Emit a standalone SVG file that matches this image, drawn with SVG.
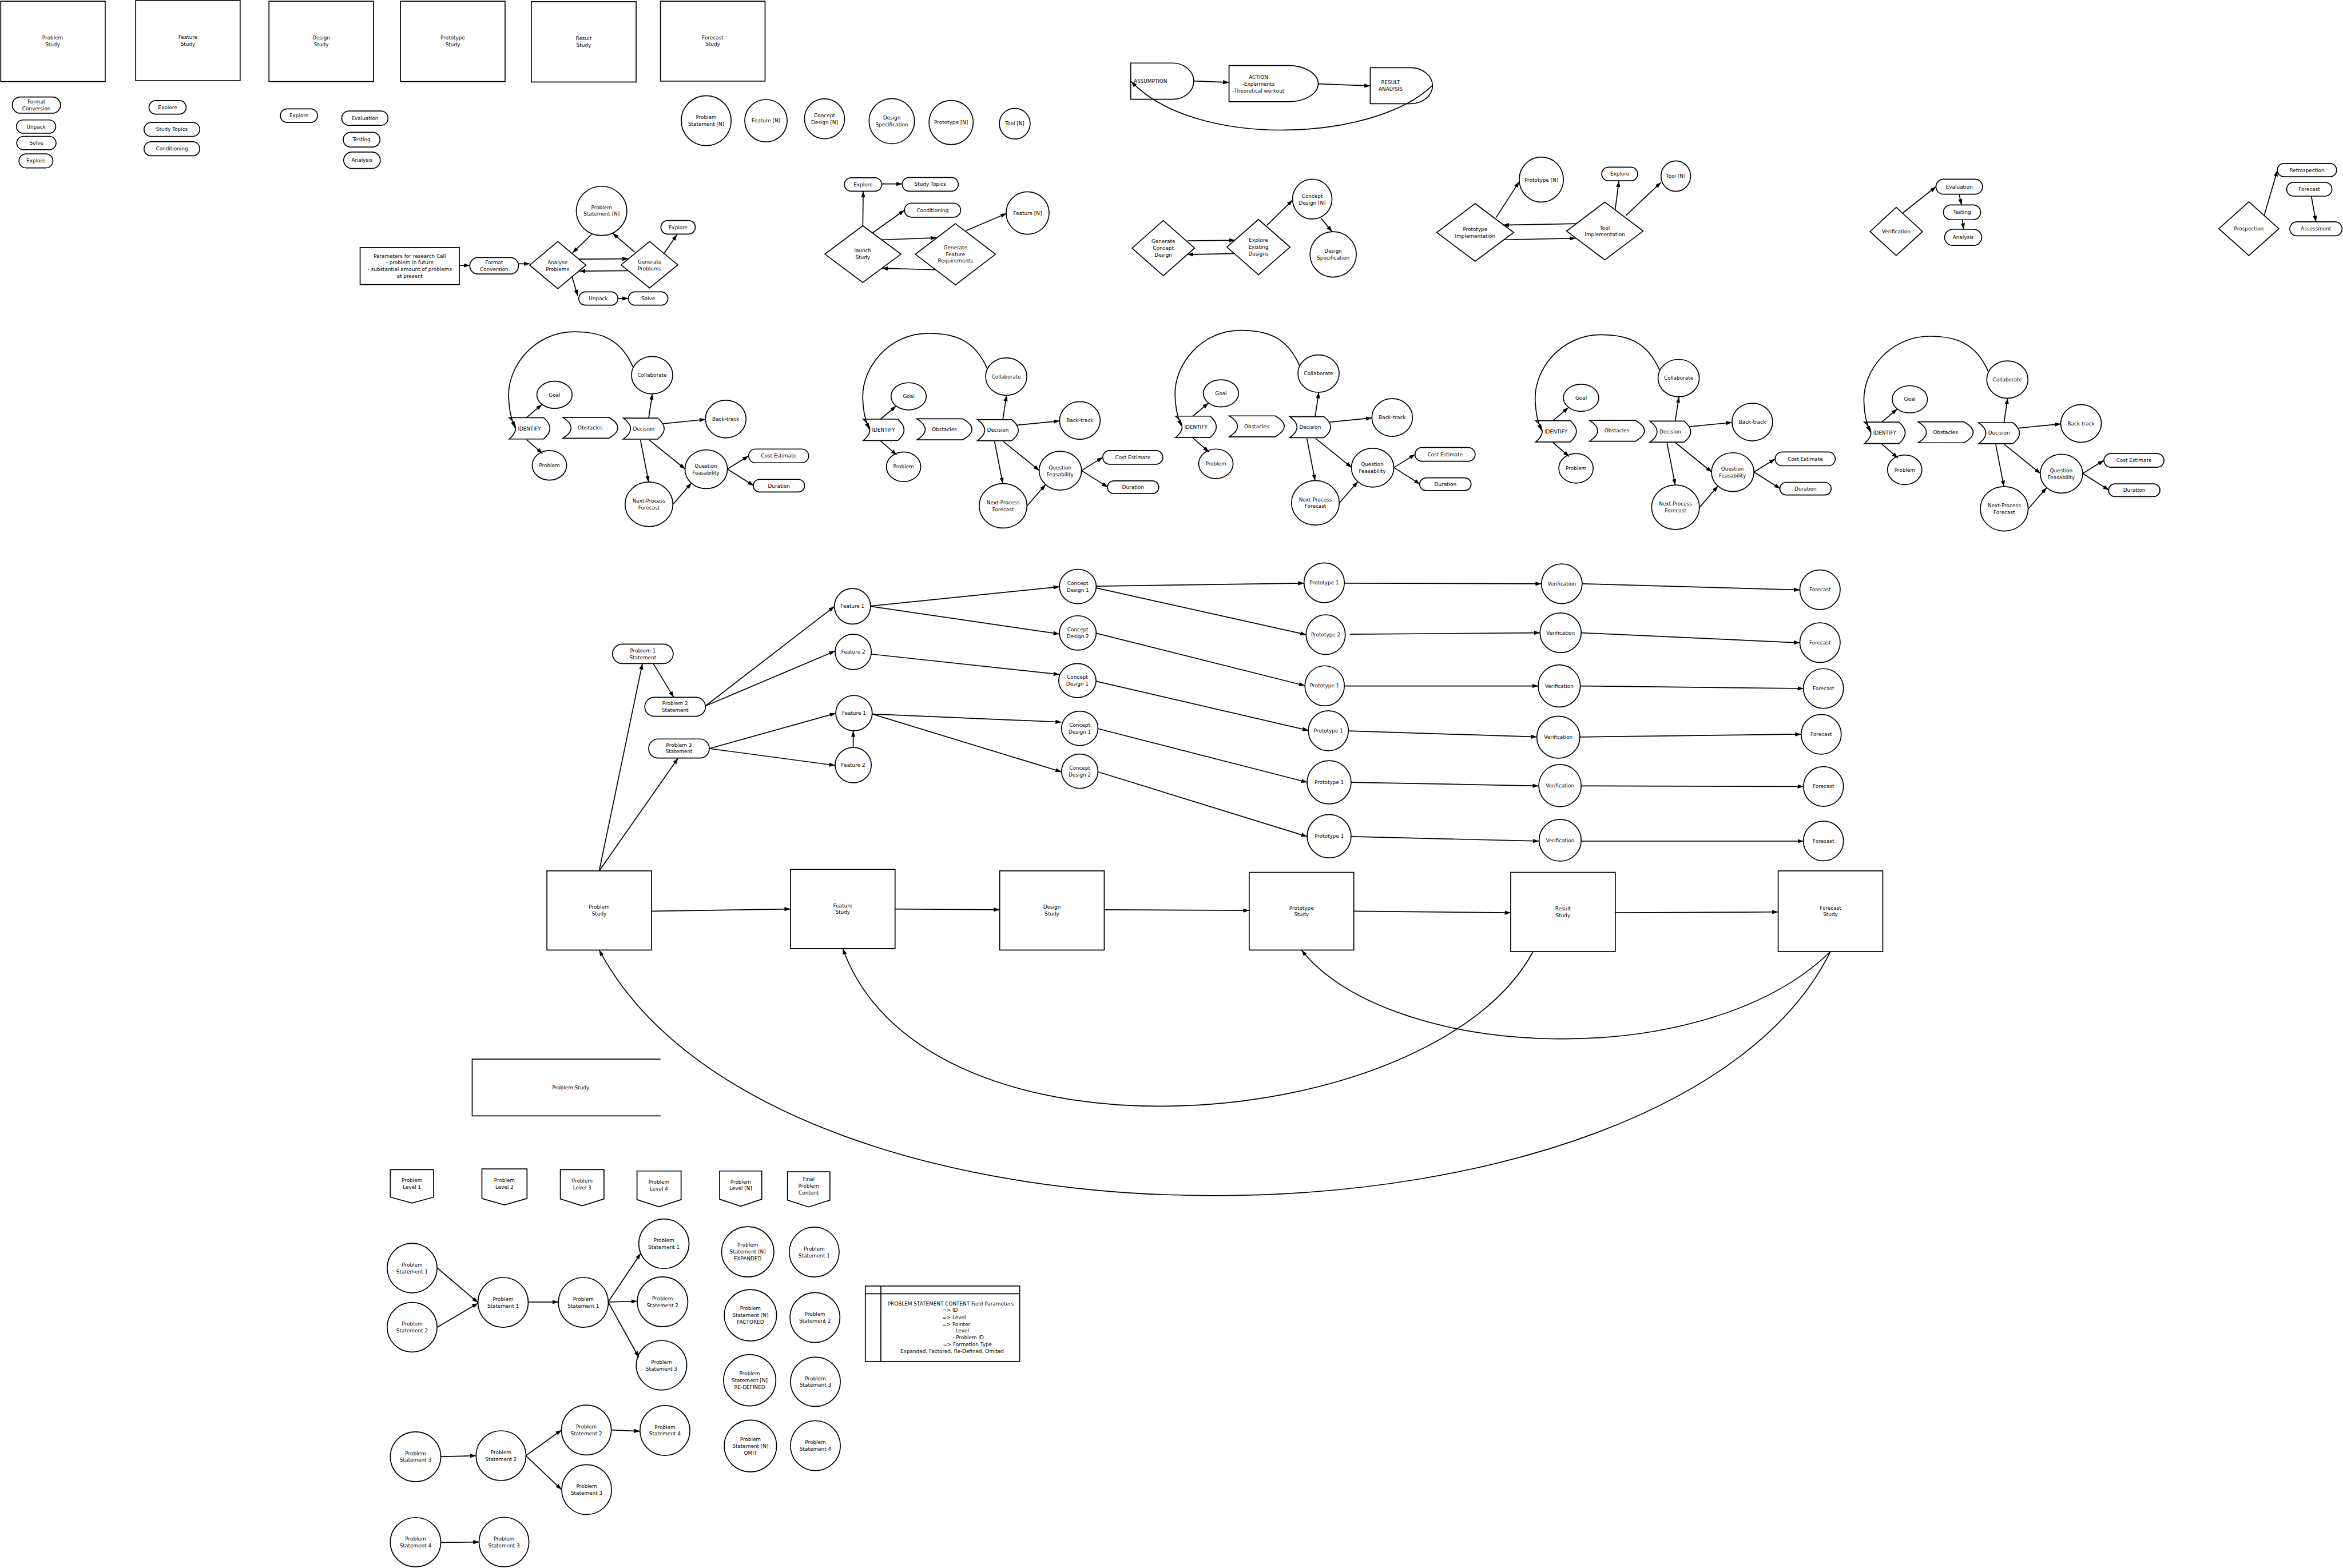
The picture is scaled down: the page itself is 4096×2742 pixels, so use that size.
<svg xmlns="http://www.w3.org/2000/svg" width="4096" height="2742" viewBox="0 0 4096 2742">
<style>
.n{fill:#fff;stroke:#000;stroke-width:0.65}
.e{fill:none;stroke:#000;stroke-width:0.65;marker-end:url(#ah)}
.l{fill:none;stroke:#000;stroke-width:0.65}
text{font-family:"DejaVu Sans",sans-serif;font-size:3.4px;text-anchor:middle;fill:#000}
.st{text-anchor:start}
</style>
<defs>
<marker id="ah" viewBox="0 0 10 7" refX="10" refY="3.5" markerWidth="4" markerHeight="2.8" orient="auto" markerUnits="userSpaceOnUse"><path d="M0,0 L10,3.5 L0,7 z" fill="#000"/></marker>
</defs>
<rect width="4096" height="2742" fill="#fff"/>
<g transform="scale(2.61224)">
<!-- top study boxes -->
<g id="t-problem-study"><rect class="n" x="0.5" y="0.8" width="69.9" height="53.8"/><text x="35.2" y="26.6">Problem<tspan x="35.2" dy="4.5">Study</tspan></text></g>
<g id="t-feature-study"><rect class="n" x="90.8" y="0.4" width="69.9" height="53.6"/><text x="125.75" y="26">Feature<tspan x="125.75" dy="4.5">Study</tspan></text></g>
<g id="t-design-study"><rect class="n" x="180" y="0.8" width="70" height="53.8"/><text x="215" y="26.6">Design<tspan x="215" dy="4.5">Study</tspan></text></g>
<g id="t-prototype-study"><rect class="n" x="268" y="0.8" width="70" height="53.8"/><text x="303" y="26.6">Prototype<tspan x="303" dy="4.5">Study</tspan></text></g>
<g id="t-result-study"><rect class="n" x="355.6" y="1.1" width="70.1" height="53.8"/><text x="390.6" y="26.7">Result<tspan x="390.6" dy="4.5">Study</tspan></text></g>
<g id="t-forecast-study"><rect class="n" x="442" y="0.8" width="70" height="53.5"/><text x="477" y="26.3">Forecast<tspan x="477" dy="4.5">Study</tspan></text></g>
<!-- pills under boxes -->
<g id="p-format"><rect class="n" x="8.2" y="64.9" width="32.3" height="10.9" rx="5.45"/><text x="24.35" y="69.3">Format<tspan x="24.35" dy="4.5">Conversion</tspan></text></g>
<g id="p-unpack"><rect class="n" x="11" y="80.3" width="26.3" height="8.9" rx="4.45"/><text x="24.15" y="85.95">Unpack</text></g>
<g id="p-solve"><rect class="n" x="11.2" y="91.3" width="26.3" height="8.9" rx="4.45"/><text x="24.35" y="96.95">Solve</text></g>
<g id="p-explore1"><rect class="n" x="12.7" y="103" width="22.7" height="9.4" rx="4.7"/><text x="24.05" y="108.9">Explore</text></g>
<g id="p-explore2"><rect class="n" x="99.7" y="67.3" width="24.9" height="9.1" rx="4.55"/><text x="112.15" y="73.05">Explore</text></g>
<g id="p-studytopics"><rect class="n" x="96.4" y="82" width="37.3" height="9.3" rx="4.65"/><text x="115.05" y="87.85">Study Topics</text></g>
<g id="p-conditioning"><rect class="n" x="96.4" y="94.9" width="37.3" height="9.4" rx="4.7"/><text x="115.05" y="100.8">Conditioning</text></g>
<g id="p-explore3"><rect class="n" x="187.6" y="72.9" width="24.9" height="9.1" rx="4.55"/><text x="200.05" y="78.65">Explore</text></g>
<g id="p-evaluation"><rect class="n" x="228.7" y="74.3" width="31" height="9.6" rx="4.8"/><text x="244.2" y="80.3">Evaluation</text></g>
<g id="p-testing"><rect class="n" x="229.7" y="88.6" width="24.6" height="9.8" rx="4.9"/><text x="242" y="94.7">Testing</text></g>
<g id="p-analysis"><rect class="n" x="230" y="101.8" width="24.5" height="11" rx="5.5"/><text x="242.25" y="108.5">Analysis</text></g>
<!-- circles row -->
<g id="c-ps"><ellipse class="n" cx="472.6" cy="80.8" rx="16.7" ry="16.7"/><text x="472.6" y="79.7">Problem<tspan x="472.6" dy="4.7">Statement [N]</tspan></text></g>
<g id="c-feature"><ellipse class="n" cx="512.6" cy="80.8" rx="14.2" ry="14.2"/><text x="512.6" y="82">Feature [N]</text></g>
<g id="c-concept"><ellipse class="n" cx="551.8" cy="79.5" rx="13.4" ry="13.4"/><text x="551.8" y="78.3">Concept<tspan x="551.8" dy="4.6">Design [N]</tspan></text></g>
<g id="c-designspec"><ellipse class="n" cx="596.8" cy="81.1" rx="15.2" ry="15.1"/><text x="596.8" y="80">Design<tspan x="596.8" dy="4.6">Specification</tspan></text></g>
<g id="c-prototype"><ellipse class="n" cx="636.5" cy="82" rx="14.8" ry="14.8"/><text x="636.5" y="83.2">Prototype [N]</text></g>
<g id="c-tool"><ellipse class="n" cx="679.1" cy="82.8" rx="10.3" ry="10.3"/><text x="679.1" y="84">Tool [N]</text></g>
<!-- assumption loop -->
<g id="a-assumption"><path class="n" d="M756.7,42.2 H784.7 A14.2,12.15 0 0 1 784.7,66.5 H756.7 Z"/><text class="st" x="758.7" y="55.4">ASSUMPTION</text></g>
<g id="a-action"><path class="n" d="M822.5,43.9 H862.3 A19.9,12.1 0 0 1 862.3,68.1 H822.5 Z"/><text x="842.2" y="52.9">ACTION<tspan x="842.2" dy="4.6">-Experments</tspan><tspan x="842.2" dy="4.5">-Theoretical workout</tspan></text></g>
<g id="a-result"><path class="n" d="M917,45.3 H943.9 A14.8,12.05 0 0 1 943.9,69.4 H917 Z"/><text x="930.6" y="56.4">RESULT<tspan x="930.6" dy="4.5">ANALYSIS</tspan></text></g>
<!-- parameters cluster -->
<g id="k-params"><rect class="n" x="241" y="165.7" width="66.4" height="24.8"/><text x="274.2" y="172.5">Parameters for research Call<tspan x="274.2" dy="4.55">- problem in future</tspan><tspan x="274.2" dy="4.55">- substantial amount of problems</tspan><tspan x="274.2" dy="4.55">at present</tspan></text></g>
<g id="k-format"><rect class="n" x="314.4" y="172.4" width="32.6" height="11" rx="5.5"/><text x="330.7" y="176.8">Format<tspan x="330.7" dy="4.5">Conversion</tspan></text></g>
<g id="k-analyse"><polygon class="n" points="373.3,161.7 392.1,177.5 373.3,193.3 354.5,177.5"/><text x="373.1" y="176.8">Analyse<tspan x="373.1" dy="4.5">Problems</tspan></text></g>
<g id="k-ps"><ellipse class="n" cx="402.6" cy="141.2" rx="16.9" ry="16.5"/><text x="402.6" y="140">Problem<tspan x="402.6" dy="4.5">Statement [N]</tspan></text></g>
<g id="k-generate"><polygon class="n" points="434.7,161.7 453.6,177.3 434.7,192.8 415.7,177.3"/><text x="434.7" y="176.6">Generate<tspan x="434.7" dy="4.5">Problems</tspan></text></g>
<g id="k-explore"><rect class="n" x="442.3" y="147.6" width="23" height="9.1" rx="4.55"/><text x="453.8" y="153.35">Explore</text></g>
<g id="k-unpack"><rect class="n" x="387.3" y="195.4" width="26.2" height="8.9" rx="4.45"/><text x="400.4" y="201.05">Unpack</text></g>
<g id="k-solve"><rect class="n" x="420.5" y="195.4" width="26.5" height="8.9" rx="4.45"/><text x="433.75" y="201.05">Solve</text></g>
<!-- launch cluster -->
<g id="l-explore"><rect class="n" x="565.1" y="119" width="25" height="9" rx="4.5"/><text x="577.6" y="124.7">Explore</text></g>
<g id="l-studytopics"><rect class="n" x="603.8" y="118.8" width="37.5" height="9.2" rx="4.6"/><text x="622.55" y="124.6">Study Topics</text></g>
<g id="l-conditioning"><rect class="n" x="605.3" y="136" width="37.6" height="9.4" rx="4.7"/><text x="624.1" y="141.9">Conditioning</text></g>
<g id="l-feature"><ellipse class="n" cx="687.7" cy="142.6" rx="14.4" ry="14.2"/><text x="687.7" y="143.8">Feature [N]</text></g>
<g id="l-launch"><polygon class="n" points="577.4,151.1 602.9,170.1 577.4,189.1 552,170.1"/><text x="577.4" y="168.8">launch<tspan x="577.4" dy="4.5">Study</tspan></text></g>
<g id="l-genfeat"><polygon class="n" points="639.4,149.7 666.2,170.2 639.4,190.7 612.6,170.2"/><text x="639.4" y="166.9">Generate<tspan x="639.4" dy="4.5">Feature</tspan><tspan x="639.4" dy="4.5">Requirements</tspan></text></g>
<!-- concept cluster -->
<g id="g-genconcept"><polygon class="n" points="778.5,147.6 799.4,166.1 778.5,184.6 757.6,166.1"/><text x="778.5" y="162.6">Generate<tspan x="778.5" dy="4.6">Concept</tspan><tspan x="778.5" dy="4.6">Design</tspan></text></g>
<g id="g-explore"><polygon class="n" points="842.2,146.9 863.3,165.4 842.2,183.9 821.1,165.4"/><text x="842.2" y="162">Explore<tspan x="842.2" dy="4.5">Existing</tspan><tspan x="842.2" dy="4.5">Designs</tspan></text></g>
<g id="g-concept"><ellipse class="n" cx="878.2" cy="133.3" rx="13.2" ry="13.3"/><text x="878.2" y="132.6">Concept<tspan x="878.2" dy="4.4">Design [N]</tspan></text></g>
<g id="g-designspec"><ellipse class="n" cx="892.2" cy="170.3" rx="15.5" ry="15.2"/><text x="892.2" y="169.3">Design<tspan x="892.2" dy="4.5">Specification</tspan></text></g>
<!-- prototype cluster -->
<g id="h-protoimpl"><polygon class="n" points="987.2,136.3 1013,155.6 987.2,174.9 961.5,155.6"/><text x="987.2" y="154.7">Prototype<tspan x="987.2" dy="4.6">Implementation</tspan></text></g>
<g id="h-toolimpl"><polygon class="n" points="1074,135.3 1099.6,154.7 1074,174 1048.4,154.7"/><text x="1074" y="153.7">Tool<tspan x="1074" dy="4.5">Implementation</tspan></text></g>
<g id="h-prototype"><ellipse class="n" cx="1031.5" cy="120.2" rx="14.8" ry="15.1"/><text x="1031.5" y="121.6">Prototype [N]</text></g>
<g id="h-explore"><rect class="n" x="1071.9" y="111.9" width="24.1" height="9.1" rx="4.55"/><text x="1083.95" y="117.65">Explore</text></g>
<g id="h-tool"><ellipse class="n" cx="1121.5" cy="117.9" rx="9.9" ry="10.2"/><text x="1121.5" y="119.1">Tool [N]</text></g>
<!-- verification cluster -->
<g id="v-verification"><polygon class="n" points="1269,138.8 1286.6,155 1269,171.1 1251.5,155"/><text x="1269" y="156.2">Verification</text></g>
<g id="v-evaluation"><rect class="n" x="1295.6" y="120" width="31.2" height="10" rx="5"/><text x="1311.2" y="126.2">Evaluation</text></g>
<g id="v-testing"><rect class="n" x="1300.6" y="137.2" width="24.9" height="9.9" rx="4.95"/><text x="1313.05" y="143.35">Testing</text></g>
<g id="v-analysis"><rect class="n" x="1301.4" y="153.5" width="24.8" height="10.8" rx="5.4"/><text x="1313.8" y="160.1">Analysis</text></g>
<g id="v-prospection"><polygon class="n" points="1505,135.1 1525.1,153.1 1505,171.1 1484.9,153.1"/><text x="1505" y="154.3">Prospection</text></g>
<g id="v-retrospection"><rect class="n" x="1524.1" y="109.4" width="39.6" height="8.9" rx="4.45"/><text x="1543.9" y="115.05">Retrospection</text></g>
<g id="v-forecast"><rect class="n" x="1530.3" y="122.1" width="30.3" height="9.2" rx="4.6"/><text x="1545.45" y="127.9">Forecast</text></g>
<g id="v-assessment"><rect class="n" x="1532.4" y="148.5" width="35" height="9.4" rx="4.7"/><text x="1549.9" y="154.4">Assessment</text></g>
<!-- decision clusters -->
<g id="d1">
<g id="d1-identify"><path class="n" d="M340.7,279.6 H363.8 Q372.2,286.75 363.8,293.9 H340.7 Q349.5,286.75 340.7,279.6 Z"/><text x="354.3" y="288.1">IDENTIFY</text></g>
<g id="d1-obstacles"><path class="n" d="M376.7,279.4 H407.4 Q419.6,286.4 407.4,293.4 H376.7 Q387.7,286.4 376.7,279.4 Z"/><text x="395" y="287.6">Obstacles</text></g>
<g id="d1-decision"><path class="n" d="M417.1,279.9 H440 Q449,286.95 440,294 H417.1 Q426.9,286.95 417.1,279.9 Z"/><text x="430.8" y="288.1">Decision</text></g>
<g id="d1-goal"><ellipse class="n" cx="371.1" cy="264.3" rx="11.8" ry="9.1"/><text x="371.1" y="265.5">Goal</text></g>
<g id="d1-problem"><ellipse class="n" cx="367.7" cy="311.5" rx="11.5" ry="9.9"/><text x="367.7" y="312.7">Problem</text></g>
<g id="d1-collaborate"><ellipse class="n" cx="436.4" cy="251.1" rx="13.8" ry="12.5"/><text x="436.4" y="252.3">Collaborate</text></g>
<g id="d1-backtrack"><ellipse class="n" cx="485.7" cy="280.5" rx="13.6" ry="12.6"/><text x="485.7" y="281.7">Back-track</text></g>
<g id="d1-question"><ellipse class="n" cx="472.6" cy="314.1" rx="14.2" ry="13"/><text x="472.4" y="313.1">Question<tspan x="472.4" dy="4.6">Feasability</tspan></text></g>
<g id="d1-nextprocess"><ellipse class="n" cx="434.3" cy="337.6" rx="16" ry="14.9"/><text x="434.3" y="336.6">Next-Process<tspan x="434.3" dy="4.5">Forecast</tspan></text></g>
<g id="d1-cost"><rect class="n" x="501" y="300.6" width="40.2" height="9.2" rx="4.6"/><text x="521.1" y="306.4">Cost Estimate</text></g>
<g id="d1-duration"><rect class="n" x="504.1" y="320.9" width="34.4" height="8.5" rx="4.25"/><text x="521.3" y="326.35">Duration</text></g>
</g>
<g id="d2" transform="translate(237,1)">
<g id="d2-identify"><path class="n" d="M340.7,279.6 H363.8 Q372.2,286.75 363.8,293.9 H340.7 Q349.5,286.75 340.7,279.6 Z"/><text x="354.3" y="288.1">IDENTIFY</text></g>
<g id="d2-obstacles"><path class="n" d="M376.7,279.4 H407.4 Q419.6,286.4 407.4,293.4 H376.7 Q387.7,286.4 376.7,279.4 Z"/><text x="395" y="287.6">Obstacles</text></g>
<g id="d2-decision"><path class="n" d="M417.1,279.9 H440 Q449,286.95 440,294 H417.1 Q426.9,286.95 417.1,279.9 Z"/><text x="430.8" y="288.1">Decision</text></g>
<g id="d2-goal"><ellipse class="n" cx="371.1" cy="264.3" rx="11.8" ry="9.1"/><text x="371.1" y="265.5">Goal</text></g>
<g id="d2-problem"><ellipse class="n" cx="367.7" cy="311.5" rx="11.5" ry="9.9"/><text x="367.7" y="312.7">Problem</text></g>
<g id="d2-collaborate"><ellipse class="n" cx="436.4" cy="251.1" rx="13.8" ry="12.5"/><text x="436.4" y="252.3">Collaborate</text></g>
<g id="d2-backtrack"><ellipse class="n" cx="485.7" cy="280.5" rx="13.6" ry="12.6"/><text x="485.7" y="281.7">Back-track</text></g>
<g id="d2-question"><ellipse class="n" cx="472.6" cy="314.1" rx="14.2" ry="13"/><text x="472.4" y="313.1">Question<tspan x="472.4" dy="4.6">Feasability</tspan></text></g>
<g id="d2-nextprocess"><ellipse class="n" cx="434.3" cy="337.6" rx="16" ry="14.9"/><text x="434.3" y="336.6">Next-Process<tspan x="434.3" dy="4.5">Forecast</tspan></text></g>
<g id="d2-cost"><rect class="n" x="501" y="300.6" width="40.2" height="9.2" rx="4.6"/><text x="521.1" y="306.4">Cost Estimate</text></g>
<g id="d2-duration"><rect class="n" x="504.1" y="320.9" width="34.4" height="8.5" rx="4.25"/><text x="521.3" y="326.35">Duration</text></g>
</g>
<g id="d3" transform="translate(446,-1)">
<g id="d3-identify"><path class="n" d="M340.7,279.6 H363.8 Q372.2,286.75 363.8,293.9 H340.7 Q349.5,286.75 340.7,279.6 Z"/><text x="354.3" y="288.1">IDENTIFY</text></g>
<g id="d3-obstacles"><path class="n" d="M376.7,279.4 H407.4 Q419.6,286.4 407.4,293.4 H376.7 Q387.7,286.4 376.7,279.4 Z"/><text x="395" y="287.6">Obstacles</text></g>
<g id="d3-decision"><path class="n" d="M417.1,279.9 H440 Q449,286.95 440,294 H417.1 Q426.9,286.95 417.1,279.9 Z"/><text x="430.8" y="288.1">Decision</text></g>
<g id="d3-goal"><ellipse class="n" cx="371.1" cy="264.3" rx="11.8" ry="9.1"/><text x="371.1" y="265.5">Goal</text></g>
<g id="d3-problem"><ellipse class="n" cx="367.7" cy="311.5" rx="11.5" ry="9.9"/><text x="367.7" y="312.7">Problem</text></g>
<g id="d3-collaborate"><ellipse class="n" cx="436.4" cy="251.1" rx="13.8" ry="12.5"/><text x="436.4" y="252.3">Collaborate</text></g>
<g id="d3-backtrack"><ellipse class="n" cx="485.7" cy="280.5" rx="13.6" ry="12.6"/><text x="485.7" y="281.7">Back-track</text></g>
<g id="d3-question"><ellipse class="n" cx="472.6" cy="314.1" rx="14.2" ry="13"/><text x="472.4" y="313.1">Question<tspan x="472.4" dy="4.6">Feasability</tspan></text></g>
<g id="d3-nextprocess"><ellipse class="n" cx="434.3" cy="337.6" rx="16" ry="14.9"/><text x="434.3" y="336.6">Next-Process<tspan x="434.3" dy="4.5">Forecast</tspan></text></g>
<g id="d3-cost"><rect class="n" x="501" y="300.6" width="40.2" height="9.2" rx="4.6"/><text x="521.1" y="306.4">Cost Estimate</text></g>
<g id="d3-duration"><rect class="n" x="504.1" y="320.9" width="34.4" height="8.5" rx="4.25"/><text x="521.3" y="326.35">Duration</text></g>
</g>
<g id="d4" transform="translate(687,2)">
<g id="d4-identify"><path class="n" d="M340.7,279.6 H363.8 Q372.2,286.75 363.8,293.9 H340.7 Q349.5,286.75 340.7,279.6 Z"/><text x="354.3" y="288.1">IDENTIFY</text></g>
<g id="d4-obstacles"><path class="n" d="M376.7,279.4 H407.4 Q419.6,286.4 407.4,293.4 H376.7 Q387.7,286.4 376.7,279.4 Z"/><text x="395" y="287.6">Obstacles</text></g>
<g id="d4-decision"><path class="n" d="M417.1,279.9 H440 Q449,286.95 440,294 H417.1 Q426.9,286.95 417.1,279.9 Z"/><text x="430.8" y="288.1">Decision</text></g>
<g id="d4-goal"><ellipse class="n" cx="371.1" cy="264.3" rx="11.8" ry="9.1"/><text x="371.1" y="265.5">Goal</text></g>
<g id="d4-problem"><ellipse class="n" cx="367.7" cy="311.5" rx="11.5" ry="9.9"/><text x="367.7" y="312.7">Problem</text></g>
<g id="d4-collaborate"><ellipse class="n" cx="436.4" cy="251.1" rx="13.8" ry="12.5"/><text x="436.4" y="252.3">Collaborate</text></g>
<g id="d4-backtrack"><ellipse class="n" cx="485.7" cy="280.5" rx="13.6" ry="12.6"/><text x="485.7" y="281.7">Back-track</text></g>
<g id="d4-question"><ellipse class="n" cx="472.6" cy="314.1" rx="14.2" ry="13"/><text x="472.4" y="313.1">Question<tspan x="472.4" dy="4.6">Feasability</tspan></text></g>
<g id="d4-nextprocess"><ellipse class="n" cx="434.3" cy="337.6" rx="16" ry="14.9"/><text x="434.3" y="336.6">Next-Process<tspan x="434.3" dy="4.5">Forecast</tspan></text></g>
<g id="d4-cost"><rect class="n" x="501" y="300.6" width="40.2" height="9.2" rx="4.6"/><text x="521.1" y="306.4">Cost Estimate</text></g>
<g id="d4-duration"><rect class="n" x="504.1" y="320.9" width="34.4" height="8.5" rx="4.25"/><text x="521.3" y="326.35">Duration</text></g>
</g>
<g id="d5" transform="translate(907,3)">
<g id="d5-identify"><path class="n" d="M340.7,279.6 H363.8 Q372.2,286.75 363.8,293.9 H340.7 Q349.5,286.75 340.7,279.6 Z"/><text x="354.3" y="288.1">IDENTIFY</text></g>
<g id="d5-obstacles"><path class="n" d="M376.7,279.4 H407.4 Q419.6,286.4 407.4,293.4 H376.7 Q387.7,286.4 376.7,279.4 Z"/><text x="395" y="287.6">Obstacles</text></g>
<g id="d5-decision"><path class="n" d="M417.1,279.9 H440 Q449,286.95 440,294 H417.1 Q426.9,286.95 417.1,279.9 Z"/><text x="430.8" y="288.1">Decision</text></g>
<g id="d5-goal"><ellipse class="n" cx="371.1" cy="264.3" rx="11.8" ry="9.1"/><text x="371.1" y="265.5">Goal</text></g>
<g id="d5-problem"><ellipse class="n" cx="367.7" cy="311.5" rx="11.5" ry="9.9"/><text x="367.7" y="312.7">Problem</text></g>
<g id="d5-collaborate"><ellipse class="n" cx="436.4" cy="251.1" rx="13.8" ry="12.5"/><text x="436.4" y="252.3">Collaborate</text></g>
<g id="d5-backtrack"><ellipse class="n" cx="485.7" cy="280.5" rx="13.6" ry="12.6"/><text x="485.7" y="281.7">Back-track</text></g>
<g id="d5-question"><ellipse class="n" cx="472.6" cy="314.1" rx="14.2" ry="13"/><text x="472.4" y="313.1">Question<tspan x="472.4" dy="4.6">Feasability</tspan></text></g>
<g id="d5-nextprocess"><ellipse class="n" cx="434.3" cy="337.6" rx="16" ry="14.9"/><text x="434.3" y="336.6">Next-Process<tspan x="434.3" dy="4.5">Forecast</tspan></text></g>
<g id="d5-cost"><rect class="n" x="501" y="300.6" width="40.2" height="9.2" rx="4.6"/><text x="521.1" y="306.4">Cost Estimate</text></g>
<g id="d5-duration"><rect class="n" x="504.1" y="320.9" width="34.4" height="8.5" rx="4.25"/><text x="521.3" y="326.35">Duration</text></g>
</g>
<!-- flow section -->
<g id="f-p1"><rect class="n" x="409.9" y="431.2" width="40.6" height="13" rx="6.5"/><text x="430.2" y="436.8">Problem 1<tspan x="430.2" dy="4.5">Statement</tspan></text></g>
<g id="f-p2"><rect class="n" x="431.5" y="466.8" width="40.6" height="12.7" rx="6.35"/><text x="451.8" y="472.2">Problem 2<tspan x="451.8" dy="4.4">Statement</tspan></text></g>
<g id="f-p3"><rect class="n" x="434.1" y="494.7" width="40.6" height="12.8" rx="6.4"/><text x="454.4" y="499.9">Problem 3<tspan x="454.4" dy="4.4">Statement</tspan></text></g>
<g id="f-feat1a"><ellipse class="n" cx="570.5" cy="405.9" rx="12.1" ry="11.9"/><text x="570.5" y="407.1">Feature 1</text></g>
<g id="f-feat2a"><ellipse class="n" cx="571" cy="436.4" rx="12.1" ry="11.8"/><text x="571" y="437.6">Feature 2</text></g>
<g id="f-feat1b"><ellipse class="n" cx="571.5" cy="477.4" rx="12.2" ry="11.8"/><text x="571.5" y="478.6">Feature 1</text></g>
<g id="f-feat2b"><ellipse class="n" cx="571" cy="512.2" rx="12.1" ry="11.8"/><text x="571" y="513.4">Feature 2</text></g>
<g id="f-cd1"><ellipse class="n" cx="721.3" cy="392.6" rx="12.3" ry="11.5"/><text x="721.3" y="391.55">Concept<tspan x="721.3" dy="4.5">Design 1</tspan></text></g>
<g id="f-cd2"><ellipse class="n" cx="721.3" cy="423.7" rx="12.3" ry="11.5"/><text x="721.3" y="422.65">Concept<tspan x="721.3" dy="4.5">Design 2</tspan></text></g>
<g id="f-cd3"><ellipse class="n" cx="721" cy="455.6" rx="12.5" ry="11.4"/><text x="721" y="454.55">Concept<tspan x="721" dy="4.5">Design 1</tspan></text></g>
<g id="f-cd4"><ellipse class="n" cx="722.6" cy="487.6" rx="12.2" ry="11.5"/><text x="722.6" y="486.55">Concept<tspan x="722.6" dy="4.5">Design 1</tspan></text></g>
<g id="f-cd5"><ellipse class="n" cx="722.6" cy="516.3" rx="12.2" ry="11.5"/><text x="722.6" y="515.25">Concept<tspan x="722.6" dy="4.5">Design 2</tspan></text></g>
<g id="f-pr1"><ellipse class="n" cx="886.2" cy="390.1" rx="13.5" ry="13.3"/><text x="886.2" y="391.3">Prototype 1</text></g>
<g id="f-pr2"><ellipse class="n" cx="887.2" cy="424.9" rx="13.1" ry="13.3"/><text x="887.2" y="426.1">Prototype 2</text></g>
<g id="f-pr3"><ellipse class="n" cx="886.5" cy="459.1" rx="13.2" ry="13.4"/><text x="886.5" y="460.3">Prototype 1</text></g>
<g id="f-pr4"><ellipse class="n" cx="889" cy="489.2" rx="13.4" ry="13.4"/><text x="889" y="490.4">Prototype 1</text></g>
<g id="f-pr5"><ellipse class="n" cx="889.5" cy="523.7" rx="14.7" ry="14.5"/><text x="889.5" y="524.9">Prototype 1</text></g>
<g id="f-pr6"><ellipse class="n" cx="889.5" cy="559.8" rx="14.7" ry="14.5"/><text x="889.5" y="561">Prototype 1</text></g>
<g id="f-v1"><ellipse class="n" cx="1045.2" cy="390.8" rx="13.6" ry="13.3"/><text x="1045.2" y="392">Verification</text></g>
<g id="f-v2"><ellipse class="n" cx="1044.4" cy="423.6" rx="13.8" ry="13.3"/><text x="1044.4" y="424.8">Verification</text></g>
<g id="f-v3"><ellipse class="n" cx="1043.5" cy="459.2" rx="14.1" ry="14.1"/><text x="1043.5" y="460.4">Verification</text></g>
<g id="f-v4"><ellipse class="n" cx="1042.9" cy="493.5" rx="14.4" ry="14.1"/><text x="1042.9" y="494.7">Verification</text></g>
<g id="f-v5"><ellipse class="n" cx="1044" cy="525.9" rx="14.2" ry="14.1"/><text x="1044" y="527.1">Verification</text></g>
<g id="f-v6"><ellipse class="n" cx="1044.1" cy="562.5" rx="14.1" ry="14"/><text x="1044.1" y="563.7">Verification</text></g>
<g id="f-fc1"><ellipse class="n" cx="1218" cy="394.8" rx="13.5" ry="13.3"/><text x="1218" y="396">Forecast</text></g>
<g id="f-fc2"><ellipse class="n" cx="1218" cy="430.2" rx="13.5" ry="13.3"/><text x="1218" y="431.4">Forecast</text></g>
<g id="f-fc3"><ellipse class="n" cx="1220.3" cy="460.9" rx="13.4" ry="13.3"/><text x="1220.3" y="462.1">Forecast</text></g>
<g id="f-fc4"><ellipse class="n" cx="1218.8" cy="491.6" rx="13.4" ry="13.3"/><text x="1218.8" y="492.8">Forecast</text></g>
<g id="f-fc5"><ellipse class="n" cx="1220.3" cy="526.5" rx="13.4" ry="13.3"/><text x="1220.3" y="527.7">Forecast</text></g>
<g id="f-fc6"><ellipse class="n" cx="1220.3" cy="563" rx="13.4" ry="13.3"/><text x="1220.3" y="564.2">Forecast</text></g>
<!-- big study boxes -->
<g id="b-problem"><rect class="n" x="366" y="583" width="70" height="53"/><text x="401" y="608.4">Problem<tspan x="401" dy="4.5">Study</tspan></text></g>
<g id="b-feature"><rect class="n" x="529" y="582" width="70" height="53"/><text x="564" y="607.4">Feature<tspan x="564" dy="4.5">Study</tspan></text></g>
<g id="b-design"><rect class="n" x="669" y="583" width="70" height="53"/><text x="704" y="608.4">Design<tspan x="704" dy="4.5">Study</tspan></text></g>
<g id="b-prototype"><rect class="n" x="836" y="584" width="70" height="52"/><text x="871" y="608.9">Prototype<tspan x="871" dy="4.5">Study</tspan></text></g>
<g id="b-result"><rect class="n" x="1011" y="584" width="70" height="53"/><text x="1046" y="609.4">Result<tspan x="1046" dy="4.5">Study</tspan></text></g>
<g id="b-forecast"><rect class="n" x="1190" y="583" width="70" height="54"/><text x="1225" y="608.9">Forecast<tspan x="1225" dy="4.5">Study</tspan></text></g>
<g id="b-problem-wide"><path class="l" d="M442,709 H316 V747 H442"/><text x="382" y="729.2">Problem Study</text></g>
<!-- problem levels -->
<g id="q-l1"><path class="n" d="M261.2,783 H290.2 V801.4 L275.7,805.4 L261.2,801.4 Z"/><text x="275.7" y="791.2">Problem<tspan x="275.7" dy="4.6">Level 1</tspan></text></g>
<g id="q-l2"><path class="n" d="M322.5,782.5 H352.7 V802.3 L337.6,806.6 L322.5,802.3 Z"/><text x="337.6" y="791.2">Problem<tspan x="337.6" dy="4.6">Level 2</tspan></text></g>
<g id="q-l3"><path class="n" d="M375,783 H404.2 V802.6 L389.6,807.2 L375,802.6 Z"/><text x="389.6" y="791.7">Problem<tspan x="389.6" dy="4.6">Level 3</tspan></text></g>
<g id="q-l4"><path class="n" d="M426.3,783.9 H455.8 V803.1 L441,807.9 L426.3,803.1 Z"/><text x="441" y="792.6">Problem<tspan x="441" dy="4.3">Level 4</tspan></text></g>
<g id="q-ln"><path class="n" d="M481.6,783.9 H509.8 V802.8 L495.7,807.5 L481.6,802.8 Z"/><text x="495.7" y="792.3">Problem<tspan x="495.7" dy="4.5">Level [N]</tspan></text></g>
<g id="q-final"><path class="n" d="M527,784.4 H555.4 V803.4 L541.2,808 L527,803.4 Z"/><text x="541.2" y="790.5">Final<tspan x="541.2" dy="4.6">Problem</tspan><tspan x="541.2" dy="4.5">Content</tspan></text></g>
<g id="q-a1"><ellipse class="n" cx="275.8" cy="848.9" rx="16.7" ry="16.6"/><text x="275.8" y="847.85">Problem<tspan x="275.8" dy="4.5">Statement 1</tspan></text></g>
<g id="q-a2"><ellipse class="n" cx="275.8" cy="888.5" rx="16.7" ry="16.6"/><text x="275.8" y="887.45">Problem<tspan x="275.8" dy="4.5">Statement 2</tspan></text></g>
<g id="q-b1"><ellipse class="n" cx="336.7" cy="871.9" rx="16.8" ry="16.7"/><text x="336.7" y="870.85">Problem<tspan x="336.7" dy="4.5">Statement 1</tspan></text></g>
<g id="q-c1"><ellipse class="n" cx="390.4" cy="871.9" rx="16.7" ry="16.7"/><text x="390.4" y="870.85">Problem<tspan x="390.4" dy="4.5">Statement 1</tspan></text></g>
<g id="q-d1"><ellipse class="n" cx="444.3" cy="832.6" rx="16.8" ry="16.6"/><text x="444.3" y="831.55">Problem<tspan x="444.3" dy="4.5">Statement 1</tspan></text></g>
<g id="q-d2"><ellipse class="n" cx="443.4" cy="871.5" rx="16.9" ry="16.7"/><text x="443.4" y="870.45">Problem<tspan x="443.4" dy="4.5">Statement 2</tspan></text></g>
<g id="q-d3"><ellipse class="n" cx="442.7" cy="914" rx="16.9" ry="16.6"/><text x="442.7" y="912.95">Problem<tspan x="442.7" dy="4.5">Statement 3</tspan></text></g>
<g id="q-a3"><ellipse class="n" cx="278.1" cy="975.2" rx="16.9" ry="16.7"/><text x="278.1" y="974.15">Problem<tspan x="278.1" dy="4.5">Statement 3</tspan></text></g>
<g id="q-b2"><ellipse class="n" cx="335.3" cy="974.5" rx="16.7" ry="16.7"/><text x="335.3" y="973.45">Problem<tspan x="335.3" dy="4.5">Statement 2</tspan></text></g>
<g id="q-c2"><ellipse class="n" cx="392.4" cy="957.3" rx="16.7" ry="16.7"/><text x="392.4" y="956.25">Problem<tspan x="392.4" dy="4.5">Statement 2</tspan></text></g>
<g id="q-c3"><ellipse class="n" cx="392.6" cy="997.2" rx="16.7" ry="16.7"/><text x="392.6" y="996.15">Problem<tspan x="392.6" dy="4.5">Statement 3</tspan></text></g>
<g id="q-d4"><ellipse class="n" cx="445" cy="957.6" rx="16.7" ry="16.7"/><text x="445" y="956.55">Problem<tspan x="445" dy="4.5">Statement 4</tspan></text></g>
<g id="q-a4"><ellipse class="n" cx="278.1" cy="1032.4" rx="16.9" ry="16.5"/><text x="278.1" y="1031.35">Problem<tspan x="278.1" dy="4.5">Statement 4</tspan></text></g>
<g id="q-b3"><ellipse class="n" cx="337.3" cy="1032.3" rx="16.7" ry="16.6"/><text x="337.3" y="1031.25">Problem<tspan x="337.3" dy="4.5">Statement 3</tspan></text></g>
<g id="q-n1"><ellipse class="n" cx="500.4" cy="838" rx="17.5" ry="16.8"/><text x="500.4" y="834.6">Problem<tspan x="500.4" dy="4.6">Statement [N]</tspan><tspan x="500.4" dy="4.5">EXPANDED</tspan></text></g>
<g id="q-n2"><ellipse class="n" cx="502.2" cy="880.5" rx="17.5" ry="17.2"/><text x="502.2" y="877.1">Problem<tspan x="502.2" dy="4.6">Statement [N]</tspan><tspan x="502.2" dy="4.5">FACTORED</tspan></text></g>
<g id="q-n3"><ellipse class="n" cx="501.7" cy="924" rx="17.5" ry="17.2"/><text x="501.7" y="920.6">Problem<tspan x="501.7" dy="4.6">Statement [N]</tspan><tspan x="501.7" dy="4.5">RE-DEFINED</tspan></text></g>
<g id="q-n4"><ellipse class="n" cx="502.2" cy="968" rx="17.5" ry="17.3"/><text x="502.2" y="964.6">Problem<tspan x="502.2" dy="4.6">Statement [N]</tspan><tspan x="502.2" dy="4.5">OMIT</tspan></text></g>
<g id="q-f1"><ellipse class="n" cx="544.9" cy="838.2" rx="16.7" ry="16.7"/><text x="544.9" y="837.15">Problem<tspan x="544.9" dy="4.5">Statement 1</tspan></text></g>
<g id="q-f2"><ellipse class="n" cx="545.4" cy="882" rx="16.7" ry="16.7"/><text x="545.4" y="880.95">Problem<tspan x="545.4" dy="4.5">Statement 2</tspan></text></g>
<g id="q-f3"><ellipse class="n" cx="545.7" cy="925" rx="16.7" ry="16.5"/><text x="545.7" y="923.95">Problem<tspan x="545.7" dy="4.5">Statement 3</tspan></text></g>
<g id="q-f4"><ellipse class="n" cx="545.7" cy="967.8" rx="16.7" ry="16.7"/><text x="545.7" y="966.75">Problem<tspan x="545.7" dy="4.5">Statement 4</tspan></text></g>
<!-- table -->
<g id="q-table"><rect class="n" x="579.1" y="860.9" width="103.3" height="50.5"/><path class="l" d="M589.5,860.9 V911.4 M579.1,866.1 H682.4"/>
<text x="636.2" y="873.9">PROBLEM STATEMENT CONTENT Field Parameters</text>
<text class="st" x="630.6" y="878.3">=&gt; ID</text>
<text class="st" x="630.6" y="883">=&gt; Level</text>
<text class="st" x="630.6" y="887.6">=&gt; Pointer</text>
<text class="st" x="637.2" y="891.8">- Level</text>
<text class="st" x="637.5" y="896.5">- Problem ID</text>
<text class="st" x="631" y="901.3">=&gt; Formation Type</text>
<text x="637.2" y="905.7">Expanded, Factored, Re-Defined, Omited</text></g>
<!-- connectors -->
<g id="connectors">
<path class="e" d="M798.9,54.2 L822.5,55.2"/>
<path class="e" d="M882.2,56.1 L917,57.5"/>
<path class="e" d="M958.7,57.1 C920,95 800,100 757,54.5"/>
<path class="e" d="M307.4,177.7 L314.4,177.7"/>
<path class="e" d="M347,176.6 L354.5,176.6"/>
<path class="e" d="M395.8,157 L383.1,169.3"/>
<path class="e" d="M424.8,168.8 L410,156.1"/>
<path class="e" d="M444.7,169.3 L453.1,157"/>
<path class="e" d="M387.3,173.5 L420.5,173.3"/>
<path class="e" d="M420.1,181.2 L387.8,181.5"/>
<path class="e" d="M382.8,185.3 L386.6,198"/>
<path class="e" d="M413.5,199.8 L420.5,199.8"/>
<path class="e" d="M577.4,151.1 L577.7,128"/>
<path class="e" d="M590.1,123.1 L603.8,123.1"/>
<path class="e" d="M584.1,155.8 L605.3,140.7"/>
<path class="e" d="M590.3,160.5 L626.7,159.2"/>
<path class="e" d="M626.1,180.6 L590.3,179.6"/>
<path class="e" d="M646.4,154.5 L673.6,142.9"/>
<path class="e" d="M794.7,161.2 L826.5,160.8"/>
<path class="e" d="M826.5,169.7 L794.7,170.4"/>
<path class="e" d="M847.8,150.9 L865.1,133.9"/>
<path class="e" d="M884.2,146.2 L891.5,155.1"/>
<path class="e" d="M1001.2,145.7 L1016.7,121.6"/>
<path class="e" d="M1055.6,149.7 L1005.8,150.7"/>
<path class="e" d="M1006.5,160.5 L1054.5,159.5"/>
<path class="e" d="M1080.9,140.5 L1083.4,121.2"/>
<path class="e" d="M1088.1,144.3 L1111.6,122.1"/>
<path class="e" d="M1273.6,142.4 L1295.6,125"/>
<path class="e" d="M1311.1,130 L1312.7,137.2"/>
<path class="e" d="M1313.3,147.1 L1314.1,153.5"/>
<path class="e" d="M1515.2,144.3 L1524.1,114.1"/>
<path class="e" d="M1546.8,131.3 L1549.9,148.5"/>
<g id="dc1">
<path class="e" d="M423.6,245.6 C415,226 401,222.1 384.3,222.1 C358,222.1 339.5,245 340.4,266 C340.8,276 342.5,281 344.6,286.2"/>
<path class="e" d="M352.3,279.6 L362.7,270.8"/><path class="e" d="M352.3,294.2 L363.1,303.6"/>
<path class="e" d="M434.1,279.9 L436.6,263.6"/><path class="e" d="M443.8,283.6 L472.1,280.8"/>
<path class="e" d="M428.6,294.5 L434.1,322.7"/><path class="e" d="M434.4,294.5 L458.6,314"/>
<path class="e" d="M450.4,337.6 L462.7,323.4"/><path class="e" d="M486.8,314 L501,305.2"/>
<path class="e" d="M486.8,314 L504.4,325.1"/>
</g>
<g id="dc2" transform="translate(237,1)">
<path class="e" d="M423.6,245.6 C415,226 401,222.1 384.3,222.1 C358,222.1 339.5,245 340.4,266 C340.8,276 342.5,281 344.6,286.2"/>
<path class="e" d="M352.3,279.6 L362.7,270.8"/><path class="e" d="M352.3,294.2 L363.1,303.6"/>
<path class="e" d="M434.1,279.9 L436.6,263.6"/><path class="e" d="M443.8,283.6 L472.1,280.8"/>
<path class="e" d="M428.6,294.5 L434.1,322.7"/><path class="e" d="M434.4,294.5 L458.6,314"/>
<path class="e" d="M450.4,337.6 L462.7,323.4"/><path class="e" d="M486.8,314 L501,305.2"/>
<path class="e" d="M486.8,314 L504.4,325.1"/>
</g>
<g id="dc3" transform="translate(446,-1)">
<path class="e" d="M423.6,245.6 C415,226 401,222.1 384.3,222.1 C358,222.1 339.5,245 340.4,266 C340.8,276 342.5,281 344.6,286.2"/>
<path class="e" d="M352.3,279.6 L362.7,270.8"/><path class="e" d="M352.3,294.2 L363.1,303.6"/>
<path class="e" d="M434.1,279.9 L436.6,263.6"/><path class="e" d="M443.8,283.6 L472.1,280.8"/>
<path class="e" d="M428.6,294.5 L434.1,322.7"/><path class="e" d="M434.4,294.5 L458.6,314"/>
<path class="e" d="M450.4,337.6 L462.7,323.4"/><path class="e" d="M486.8,314 L501,305.2"/>
<path class="e" d="M486.8,314 L504.4,325.1"/>
</g>
<g id="dc4" transform="translate(687,2)">
<path class="e" d="M423.6,245.6 C415,226 401,222.1 384.3,222.1 C358,222.1 339.5,245 340.4,266 C340.8,276 342.5,281 344.6,286.2"/>
<path class="e" d="M352.3,279.6 L362.7,270.8"/><path class="e" d="M352.3,294.2 L363.1,303.6"/>
<path class="e" d="M434.1,279.9 L436.6,263.6"/><path class="e" d="M443.8,283.6 L472.1,280.8"/>
<path class="e" d="M428.6,294.5 L434.1,322.7"/><path class="e" d="M434.4,294.5 L458.6,314"/>
<path class="e" d="M450.4,337.6 L462.7,323.4"/><path class="e" d="M486.8,314 L501,305.2"/>
<path class="e" d="M486.8,314 L504.4,325.1"/>
</g>
<g id="dc5" transform="translate(907,3)">
<path class="e" d="M423.6,245.6 C415,226 401,222.1 384.3,222.1 C358,222.1 339.5,245 340.4,266 C340.8,276 342.5,281 344.6,286.2"/>
<path class="e" d="M352.3,279.6 L362.7,270.8"/><path class="e" d="M352.3,294.2 L363.1,303.6"/>
<path class="e" d="M434.1,279.9 L436.6,263.6"/><path class="e" d="M443.8,283.6 L472.1,280.8"/>
<path class="e" d="M428.6,294.5 L434.1,322.7"/><path class="e" d="M434.4,294.5 L458.6,314"/>
<path class="e" d="M450.4,337.6 L462.7,323.4"/><path class="e" d="M486.8,314 L501,305.2"/>
<path class="e" d="M486.8,314 L504.4,325.1"/>
</g>
<path class="e" d="M437.3,444.4 L450.9,466.8"/>
<path class="e" d="M401,583 L429.9,444.2"/>
<path class="e" d="M401,583 L453.8,507.5"/>
<path class="e" d="M472.1,472.6 L558.4,406"/>
<path class="e" d="M472.1,472.6 L558.9,435.8"/>
<path class="e" d="M474.7,501.1 L559.3,477.5"/>
<path class="e" d="M474.7,501.1 L558.9,512.4"/>
<path class="e" d="M571,500.4 L571,489.3"/>
<path class="e" d="M582.5,405.7 L709,392.8"/>
<path class="e" d="M582.5,405.9 L709,424.4"/>
<path class="e" d="M583,437.9 L709,451.5"/>
<path class="e" d="M583.7,478 L710.4,483.4"/>
<path class="e" d="M583.7,478 L710.4,516.7"/>
<path class="e" d="M733.6,392.4 L872.7,390.4"/>
<path class="e" d="M733.6,393.6 L874.2,424.9"/>
<path class="e" d="M733.6,423.9 L873.3,459"/>
<path class="e" d="M733.6,456.1 L875.7,489"/>
<path class="e" d="M734.8,487.8 L874.8,523.7"/>
<path class="e" d="M734.8,516.7 L874.8,560"/>
<path class="e" d="M899.7,390.4 L1031.6,390.8"/>
<path class="e" d="M903.4,424.6 L1030.6,423.6"/>
<path class="e" d="M899.7,459.2 L1029.4,459.2"/>
<path class="e" d="M902.4,489.3 L1028.5,493.3"/>
<path class="e" d="M904.2,523.7 L1029.7,526.1"/>
<path class="e" d="M904.2,560 L1030,563.1"/>
<path class="e" d="M1058.9,390.8 L1204.5,394.9"/>
<path class="e" d="M1058.2,423.6 L1204.5,430.3"/>
<path class="e" d="M1057.6,459.2 L1207,460.9"/>
<path class="e" d="M1057.3,493.4 L1205.4,491.5"/>
<path class="e" d="M1058.2,526.1 L1207,526.5"/>
<path class="e" d="M1058.2,563.1 L1207,563.1"/>
<path class="e" d="M436,610 L529,608.5"/>
<path class="e" d="M599,608.5 L669,609"/>
<path class="e" d="M739,609 L836,609.5"/>
<path class="e" d="M906,610 L1011,611"/>
<path class="e" d="M1081,611 L1190,610.5"/>
<path class="e" d="M1026,637 C960,760 620,790 564,635"/>
<path class="e" d="M1225,637 C1140,720 930,710 871,636"/>
<path class="e" d="M1225,637 C1120,850 520,860 401,636"/>
<path class="e" d="M292.5,848.7 L319.9,872"/>
<path class="e" d="M292.5,888.6 L319.9,872.4"/>
<path class="e" d="M353.5,871.6 L373.7,871.6"/>
<path class="e" d="M407,871.6 L428.8,839"/>
<path class="e" d="M407,871.6 L426.5,871.1"/>
<path class="e" d="M407,871.6 L427.5,908.6"/>
<path class="e" d="M295,975.2 L318.6,974.5"/>
<path class="e" d="M351.9,974.5 L375.8,957.3"/>
<path class="e" d="M351.9,974.5 L375.8,997.2"/>
<path class="e" d="M409.1,957.3 L428.3,958.1"/>
<path class="e" d="M295,1032.6 L320.7,1032.3"/>
</g>
</g>
</svg>
